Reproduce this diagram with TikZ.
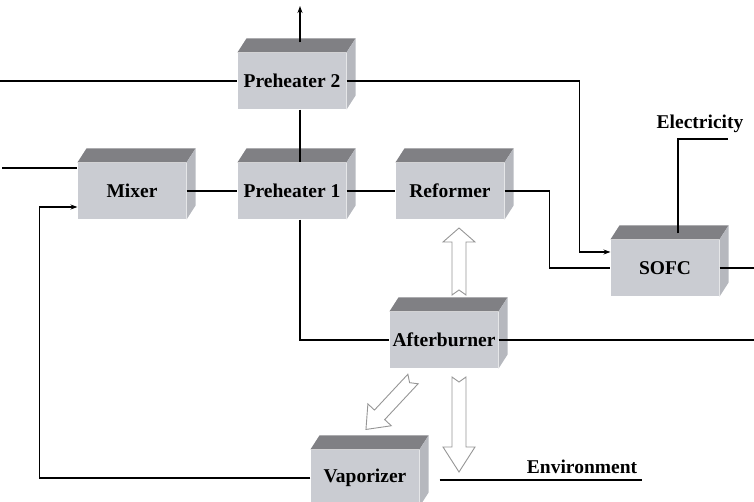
\documentclass[tikz,border=0pt]{standalone}
\usepackage{fontspec}
\setmainfont{Liberation Serif}
\usetikzlibrary{arrows.meta}

\definecolor{boxfront}{RGB}{202,204,210}
\definecolor{boxtop}{RGB}{128,128,132}
\definecolor{boxside}{RGB}{182,184,190}
\definecolor{fatgray}{RGB}{150,150,150}

% hollow block arrow: start, angle, length, head length
\newcommand{\fatarrow}[4]{%
  \begin{scope}[shift={#1}, rotate=#2]
    \draw[fatline] (0,-7) -- (#3-#4,-7) -- (#3-#4,-16) -- (#3,0) -- (#3-#4,16)
      -- (#3-#4,7) -- (0,7) -- (5,0) -- cycle;
  \end{scope}}

\begin{document}
\begin{tikzpicture}[x=1pt, y=-1pt,
  blockbox/.style={fill=boxfront, minimum width=108, minimum height=56, inner sep=0pt,
    font=\bfseries\fontsize{19.5}{22}\selectfont},
  label/.style={font=\bfseries\fontsize{19.5}{22}\selectfont, inner sep=0pt},
  fatline/.style={draw=fatgray, fill=white, line width=0.9pt, line join=miter},
  >={Stealth[length=7pt,width=5pt]},
  every path/.append style={line width=1.1pt}]

  \useasboundingbox (0,0) rectangle (754,502);

  \node[blockbox] (ph2) at (292,81) {Preheater 2};
  \node[blockbox] (mix) at (132,191) {Mixer};
  \node[blockbox] (ph1) at (292,191) {Preheater 1};
  \node[blockbox] (ref) at (450,191) {Reformer};
  \node[blockbox] (sofc) at (665,268) {SOFC};
  \node[blockbox] (ab) at (444,340) {Afterburner};
  \node[blockbox] (vap) at (365,478) {Vaporizer};

  % top and side faces
  \foreach \n in {ph2,mix,ph1,ref,sofc,ab,vap} {
    \fill[boxtop] (\n.north west) -- ++(9,-14) -- ([shift={(9,-14)}]\n.north east)
      -- (\n.north east) -- cycle;
    \fill[boxside] (\n.north east) -- ++(9,-14) -- ([shift={(9,-14)}]\n.south east)
      -- (\n.south east) -- cycle;
  }

  \coordinate (in2) at (0,81);
  \coordinate (in1) at (2,168);
  \coordinate (exh) at (300,6);
  \coordinate (out1) at (754,268);
  \coordinate (out2) at (754,340);
  \coordinate (el) at (728,139);
  \coordinate (envend) at (642,480);

  \node[label] (eltxt) at (700,124) {Electricity};
  \node[label] (envtxt) at (582,467) {Environment};

  \draw (in2) -- (ph2.west);
  \draw[->] (ph2.east) -| ([shift={(-31,-16)}]sofc.west) -- ([shift={(0,-16)}]sofc.west);
  \draw[->] ([shift={(8,-10)}]ph2.north) -- (exh);
  \draw ([xshift=8pt]ph2.south) -- ([xshift=8pt]ph1.north);
  \draw (in1) -- ([shift={(0,-23)}]mix.west);
  \draw (mix.east) -- (ph1.west);
  \draw (ph1.east) -- (ref.west);
  \draw (ref.east) -- ++(45,0) |- (sofc.west);
  \draw (sofc.east) -- (out1);
  \draw ([shift={(13,-6)}]sofc.north) |- (el);
  \draw ([xshift=8pt]ph1.south) |- (ab.west);
  \draw (ab.east) -- (out2);
  \draw[->] (vap.west) -| ([shift={(-38,16)}]mix.west) -- ([shift={(0,16)}]mix.west);
  \draw ([shift={(20,2)}]vap.east) -- (envend);

  % heat flows
  \fatarrow{(459,295)}{90}{67}{14}
  \fatarrow{(459,377)}{-90}{95}{25}
  \fatarrow{(413,379)}{227}{69}{20}
\end{tikzpicture}
\end{document}
